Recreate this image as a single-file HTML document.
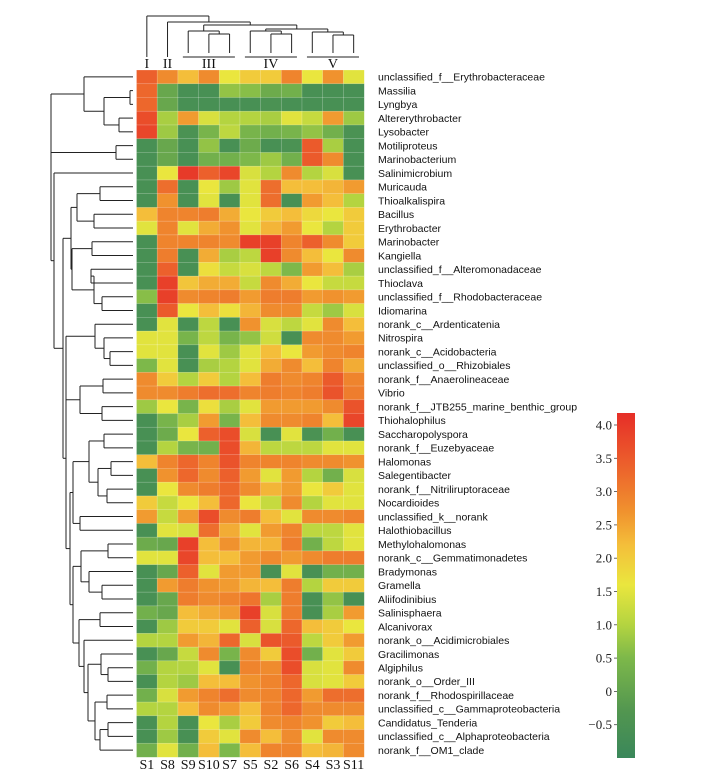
<!DOCTYPE html>
<html><head><meta charset="utf-8"><style>
body{margin:0;background:#fff;}
svg{display:block;}
.rl{font-family:"Liberation Sans",sans-serif;font-size:10.5px;fill:#111;}
.cl{font-family:"Liberation Serif",serif;font-size:14px;fill:#111;}
.tk{font-family:"Liberation Serif",serif;font-size:13px;fill:#222;}
</style></head><body>
<svg id="chart" width="701" height="784" viewBox="0 0 701 784" xmlns="http://www.w3.org/2000/svg"></svg>
<script>
const rowLabels=["unclassified_f__Erythrobacteraceae","Massilia","Lyngbya","Altererythrobacter","Lysobacter","Motiliproteus","Marinobacterium","Salinimicrobium","Muricauda","Thioalkalispira","Bacillus","Erythrobacter","Marinobacter","Kangiella","unclassified_f__Alteromonadaceae","Thioclava","unclassified_f__Rhodobacteraceae","Idiomarina","norank_c__Ardenticatenia","Nitrospira","norank_c__Acidobacteria","unclassified_o__Rhizobiales","norank_f__Anaerolineaceae","Vibrio","norank_f__JTB255_marine_benthic_group","Thiohalophilus","Saccharopolyspora","norank_f__Euzebyaceae","Halomonas","Salegentibacter","norank_f__Nitriliruptoraceae","Nocardioides","unclassified_k__norank","Halothiobacillus","Methylohalomonas","norank_c__Gemmatimonadetes","Bradymonas","Gramella","Aliifodinibius","Salinisphaera","Alcanivorax","norank_o__Acidimicrobiales","Gracilimonas","Algiphilus","norank_o__Order_III","norank_f__Rhodospirillaceae","unclassified_c__Gammaproteobacteria","Candidatus_Tenderia","unclassified_c__Alphaproteobacteria","norank_f__OM1_clade"];
const colLabels=["S1","S8","S9","S10","S7","S5","S2","S6","S4","S3","S11"];
const groupLabels=["I","II","III","IV","V"];
const colorTicks=[-0.5,0,0.5,1.0,1.5,2.0,2.5,3.0,3.5,4.0];
const values=[
[3.4,2.8,2.2,2.8,1.6,2.0,2.0,2.9,1.6,2.7,1.5],
[3.3,0.1,-0.6,-0.6,0.7,0.6,0.2,0.3,-0.6,-0.6,-0.6],
[3.3,0.1,-0.6,-0.6,-0.6,-0.6,-0.5,-0.6,-0.6,-0.6,-0.6],
[3.7,0.9,2.6,1.4,1.0,1.0,0.9,1.5,1.2,2.6,0.8],
[3.8,0.8,-0.5,0.4,1.1,0.4,0.3,0.4,0.7,0.3,-0.5],
[-0.6,0.1,-0.6,0.7,-0.6,0.2,-0.6,-0.5,3.5,0.9,-0.6],
[-0.6,0.1,-0.6,0.3,0.3,0.5,0.8,0.3,3.5,2.8,-0.6],
[-0.6,1.6,4.0,3.4,3.8,1.4,1.0,2.8,1.0,1.4,-0.6],
[-0.6,3.2,-0.6,1.6,0.8,1.5,3.2,2.2,2.2,2.3,2.6],
[-0.6,2.7,-0.6,1.5,-0.6,1.5,3.2,-0.6,2.6,2.2,1.0],
[2.2,2.9,2.9,3.0,2.4,1.6,2.0,2.2,1.8,1.6,2.0],
[1.5,2.9,1.5,2.4,2.7,1.5,2.3,2.6,1.6,1.0,2.0],
[-0.6,2.9,2.9,2.9,2.8,3.9,3.9,2.9,3.4,2.8,2.0],
[-0.6,3.0,-0.6,2.4,0.9,1.1,3.9,2.8,2.2,1.6,2.8],
[-0.6,3.4,-0.6,1.7,1.2,1.4,1.1,0.5,2.6,2.2,0.9],
[-0.6,3.9,2.1,2.4,2.4,1.2,2.8,2.4,1.6,1.2,1.2],
[0.6,3.9,2.8,2.9,3.0,2.6,3.0,3.0,2.6,2.7,2.6],
[-0.6,3.5,1.6,2.2,1.7,2.3,2.8,2.8,1.2,0.8,1.4],
[-0.6,1.5,-0.6,1.1,-0.6,2.7,1.4,1.1,1.5,2.8,2.2],
[1.5,1.5,0.4,1.1,0.4,0.7,1.3,-0.6,2.8,2.8,2.6],
[1.5,1.5,-0.6,1.5,0.8,1.5,2.2,1.6,2.6,2.8,2.9],
[0.5,1.5,-0.6,0.9,1.0,1.5,2.4,2.8,2.2,2.9,2.4],
[2.8,2.0,1.0,2.0,1.0,2.2,3.0,2.8,2.9,3.5,2.9],
[2.8,2.8,3.0,3.2,3.2,2.9,3.0,2.9,3.0,3.6,3.0],
[0.8,1.6,0.4,1.7,0.9,1.5,2.6,2.6,2.6,2.8,3.6],
[-0.6,0.4,0.9,2.6,0.4,2.2,2.8,2.8,2.9,2.2,3.8],
[-0.6,0.2,1.6,3.4,3.7,1.4,-0.6,1.5,-0.5,0.3,-0.6],
[-0.6,1.0,0.4,0.3,3.7,2.3,1.1,1.1,1.1,1.5,1.5],
[2.2,2.9,3.3,2.9,3.6,2.9,2.9,2.9,2.8,2.8,2.7],
[-0.6,2.7,3.3,2.8,3.4,2.6,1.5,2.6,1.0,0.3,1.4],
[-0.6,1.6,2.8,3.0,3.3,2.8,2.3,2.6,1.6,2.0,1.5],
[2.0,1.2,1.6,2.2,3.3,1.6,1.2,2.8,1.0,1.5,1.5],
[2.6,1.2,2.6,3.7,2.8,3.0,2.2,1.5,2.8,2.8,2.9],
[-0.6,1.5,1.4,3.2,2.4,1.5,2.6,2.9,1.1,1.1,1.5],
[0.2,0.1,3.9,2.2,2.7,2.3,2.3,3.0,0.3,1.1,1.5],
[1.5,1.5,3.8,2.2,2.2,2.6,2.8,2.6,2.8,3.0,3.0],
[-0.6,0.1,3.4,1.5,2.6,2.6,-0.6,1.5,-0.6,0.3,0.3],
[-0.6,2.6,3.0,2.7,2.6,2.3,2.2,3.0,1.0,2.0,2.0],
[-0.6,0.1,3.0,2.8,2.9,3.1,0.9,3.0,-0.6,0.7,-0.6],
[0.3,0.1,2.2,2.4,2.6,3.9,1.4,3.0,-0.6,0.9,2.6],
[-0.6,0.8,2.0,2.0,1.5,3.4,1.4,3.3,2.2,2.0,1.6],
[1.0,1.0,2.6,2.3,3.3,1.4,3.6,3.5,1.1,2.0,2.6],
[-0.6,0.1,1.2,2.8,0.4,2.8,2.0,3.7,0.3,1.5,2.0],
[0.3,1.0,1.0,1.5,-0.6,2.9,2.8,3.7,1.4,1.5,2.8],
[-0.6,1.0,0.8,2.2,2.2,2.7,2.9,3.3,1.4,1.5,2.0],
[0.3,1.4,2.6,2.9,3.2,2.8,2.9,3.3,2.6,3.2,3.2],
[1.0,1.0,2.2,2.8,2.6,2.2,2.9,3.3,2.8,2.8,2.8],
[-0.6,1.0,-0.6,1.6,0.9,2.0,2.8,2.9,2.7,2.0,2.2],
[-0.6,0.8,-0.6,2.0,1.5,2.8,2.2,2.8,1.5,2.8,2.8],
[0.3,1.5,0.3,2.2,0.5,2.2,2.9,2.9,2.2,2.3,2.8]];

const NS="http://www.w3.org/2000/svg";
const svg=document.getElementById('chart');
function mk(tag,attrs,parent){const e=document.createElementNS(NS,tag);for(const k in attrs)e.setAttribute(k,attrs[k]);(parent||svg).appendChild(e);return e;}
const HX0=136.5,HX1=364,HY0=70,HY1=757;
const cw=(HX1-HX0)/colLabels.length, rh=(HY1-HY0)/rowLabels.length;
const xPos=c=>HX0+c*cw, yPos=r=>HY0+r*rh;
const VMIN=-1.0,VMAX=4.18,CBY0=413,CBY1=758;
const cbY=v=>CBY1-(v-VMIN)/(VMAX-VMIN)*(CBY1-CBY0);
const stops=[[-1.0,[58,135,90]],[-0.3,[82,150,80]],[0.5,[125,184,74]],[1.0,[180,212,64]],[1.6,[234,230,62]],[2.2,[244,190,58]],[2.7,[240,146,46]],[3.4,[236,96,44]],[4.18,[230,46,40]]];
function color(v){if(v<=stops[0][0])return 'rgb('+stops[0][1]+')';for(let i=1;i<stops.length;i++){if(v<=stops[i][0]){const a=stops[i-1],b=stops[i],t=(v-a[0])/(b[0]-a[0]);return 'rgb('+a[1].map((c,j)=>Math.round(c+(b[1][j]-c)*t)).join(',')+')';}}return 'rgb('+stops[stops.length-1][1]+')';}

const gH=mk('g',{});


values.forEach((row,r)=>row.forEach((v,c)=>{
  const el=mk('rect',{x:xPos(c),y:yPos(r),width:cw+0.3,height:rh+0.3,fill:color(v),stroke:'rgba(255,255,255,0.35)','stroke-width':0.6},gH);
  
  
}));

rowLabels.forEach((t,r)=>{
  const el=mk('text',{x:378,y:yPos(r)+rh/2+3.8,class:'rl'});el.textContent=t;
  
  
});
colLabels.forEach((t,c)=>{
  const el=mk('text',{x:xPos(c)+cw/2,y:769,class:'cl','text-anchor':'middle'});el.textContent=t;
  
  
});

const rowTree=[51,[51,[84,0,[104,[130,1,2],[119,3,4]]],[116,5,6]],[54,7,[63,[71,[77,[100,8,9],[94,10,11]],[72,[92,12,13],[94,[91,14,15],[102,16,17]]]],[66,[66,[95,18,[104,19,[110,20,21]]],[80,[103,22,23],[102,24,25]]],[70,[73,[89,[104,26,27],[98,[111,28,29],[107,30,31]]],[80,32,33]],[73,[81,[108,34,35],[89,36,[102,37,38]]],[79,[100,39,40],[84,41,[88,[101,42,[108,43,44]],[95,[107,45,46],[100,[108,47,48],49]]]]]]]]]]];
const gD=mk('g',{stroke:'#222','stroke-width':1,fill:'none'});


function drawRow(n){
  if(typeof n==='number')return {x:133,y:yPos(n)+rh/2};
  const a=drawRow(n[1]),b=drawRow(n[2]),x=n[0];
  mk('line',{x1:x,y1:a.y,x2:a.x,y2:a.y},gD);mk('line',{x1:x,y1:b.y,x2:b.x,y2:b.y},gD);
  mk('line',{x1:x,y1:a.y,x2:x,y2:b.y},gD);
  return {x:x,y:(a.y+b.y)/2};
}
drawRow(rowTree);

const colTree=[16,0,[22,1,[25,[31,2,[34,3,4]],[29,[31,5,[34,6,7]],[32,8,[35,9,10]]]]]];
const gC=mk('g',{stroke:'#222','stroke-width':1,fill:'none'});


function drawCol(n){
  if(typeof n==='number')return {x:xPos(n)+cw/2,y:(n<2?57:53)};
  const a=drawCol(n[1]),b=drawCol(n[2]),y=n[0];
  mk('line',{x1:a.x,y1:y,x2:a.x,y2:a.y},gC);mk('line',{x1:b.x,y1:y,x2:b.x,y2:b.y},gC);
  mk('line',{x1:a.x,y1:y,x2:b.x,y2:y},gC);
  return {x:(a.x+b.x)/2,y:y};
}
drawCol(colTree);
const groupCols=[[0,0],[1,1],[2,4],[5,7],[8,10]];
groupCols.forEach((g,i)=>{
  if(g[1]>g[0]){const b=mk('line',{x1:xPos(g[0])+5,y1:57,x2:xPos(g[1]+1)-5,y2:57,stroke:'#222','stroke-width':1});
    
    }
  const el=mk('text',{x:(xPos(g[0])+xPos(g[1]+1))/2,y:68,class:'cl','text-anchor':'middle'});el.textContent=groupLabels[i];
  
  
});

const defs=mk('defs',{});
const lg=mk('linearGradient',{id:'cbg',x1:0,y1:1,x2:0,y2:0},defs);
stops.forEach(s=>mk('stop',{offset:((s[0]-VMIN)/(VMAX-VMIN)).toFixed(3),'stop-color':'rgb('+s[1]+')'},lg));
const cb=mk('rect',{x:617,y:CBY0,width:18,height:CBY1-CBY0,fill:'url(#cbg)'});


colorTicks.forEach(v=>{
  mk('line',{x1:614,y1:cbY(v),x2:617,y2:cbY(v),stroke:'#444','stroke-width':0.8});
  const el=mk('text',{x:612,y:cbY(v)+4.5,class:'tk','text-anchor':'end'});el.textContent=(v===0?'0':(v<0?'\u22120.5':v.toFixed(1)));
  
  
});
</script>
</body></html>
